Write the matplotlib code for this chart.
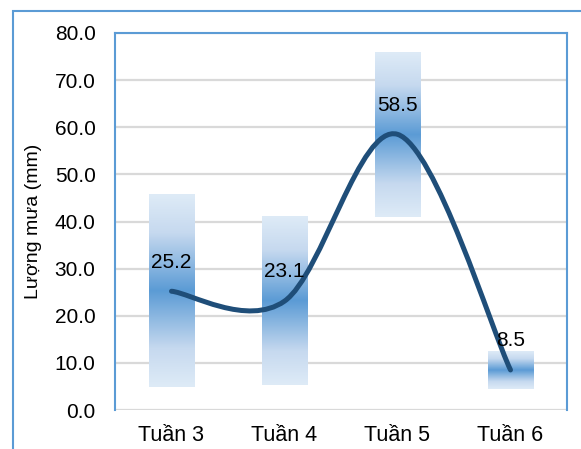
import numpy as np
import matplotlib.pyplot as plt
from matplotlib.colors import LinearSegmentedColormap
from matplotlib.path import Path
from matplotlib.patches import PathPatch, Rectangle

plt.rcParams['font.family'] = ['Liberation Sans', 'DejaVu Sans']

# du lieu
tuan = ["Tuần 3", "Tuần 4", "Tuần 5", "Tuần 6"]
luong_mua = [25.2, 23.1, 58.5, 8.5]
cot_tren = [45.6, 41.0, 76.0, 12.5]
cot_duoi = [4.8, 5.2, 41.0, 4.5]
y_ticks = [0, 10, 20, 30, 40, 50, 60, 70, 80]

xanh_dam = "#1f4e79"
vien = "#5b9bd5"

fig = plt.figure(figsize=(5.81, 4.49), dpi=100)
ax = fig.add_axes([115/581, 1-410/449, (567-115)/581, (410-33)/449])

x = np.arange(len(tuan)) + 0.5
ax.set_xlim(0, 4)
ax.set_ylim(0, 80)

# luoi ngang
for v in y_ticks:
    ax.axhline(v, color="#d9d9d9", lw=1.6, zorder=1)

# cot gradient (sang - dam - sang)
cmap = LinearSegmentedColormap.from_list(
    "g", [(0, "#deebf7"), (0.2, "#c6d9ef"), (0.5, "#5b9bd5"), (0.8, "#c6d9ef"), (1, "#deebf7")])
grad = np.linspace(0, 1, 256).reshape(-1, 1)
w = 0.4
for xi, t, d in zip(x, cot_tren, cot_duoi):
    ax.imshow(grad, cmap=cmap, aspect="auto", extent=(xi-w/2, xi+w/2, d, t),
              origin="lower", zorder=2, interpolation="bilinear")

# duong cong muot kieu excel
pts = list(zip(x, luong_mua))
verts = [pts[0]]
codes = [Path.MOVETO]
for i in range(len(pts)-1):
    p0 = np.array(pts[max(i-1, 0)])
    p1 = np.array(pts[i])
    p2 = np.array(pts[i+1])
    p3 = np.array(pts[min(i+2, len(pts)-1)])
    c1 = p1 + (p2-p0)/6
    c2 = p2 - (p3-p1)/6
    verts += [tuple(c1), tuple(c2), tuple(p2)]
    codes += [Path.CURVE4]*3
ax.add_patch(PathPatch(Path(verts, codes), fill=False, edgecolor=xanh_dam,
                       lw=3.6, capstyle="round", zorder=3))

for xi, v in zip(x, luong_mua):
    ax.annotate(f"{v:.1f}", (xi, v), xytext=(0, 21), textcoords="offset points",
                ha="center", va="center", fontsize=15, zorder=4)

ax.set_xticks(x)
ax.set_xticklabels(tuan, fontsize=15.5)
ax.set_yticks(y_ticks)
ax.set_yticklabels([f"{v:.1f}" for v in y_ticks], fontsize=15)
ax.tick_params(length=0)
ax.tick_params(axis="x", pad=11)
ax.tick_params(axis="y", pad=14)
ax.set_ylabel("Lượng mưa (mm)", fontsize=14)
ax.yaxis.set_label_coords(-(115-42)/452, 0.5)

for s in ["left", "top", "right"]:
    ax.spines[s].set_color(vien)
    ax.spines[s].set_linewidth(1.5)
ax.spines["bottom"].set_visible(False)

# khung ngoai
fig.patches.append(Rectangle((13/581, -0.1), 1.2, 1-11/449+0.1, transform=fig.transFigure,
                             fill=False, edgecolor=vien, lw=1.5, zorder=0))

fig.savefig("out.png", dpi=100)
